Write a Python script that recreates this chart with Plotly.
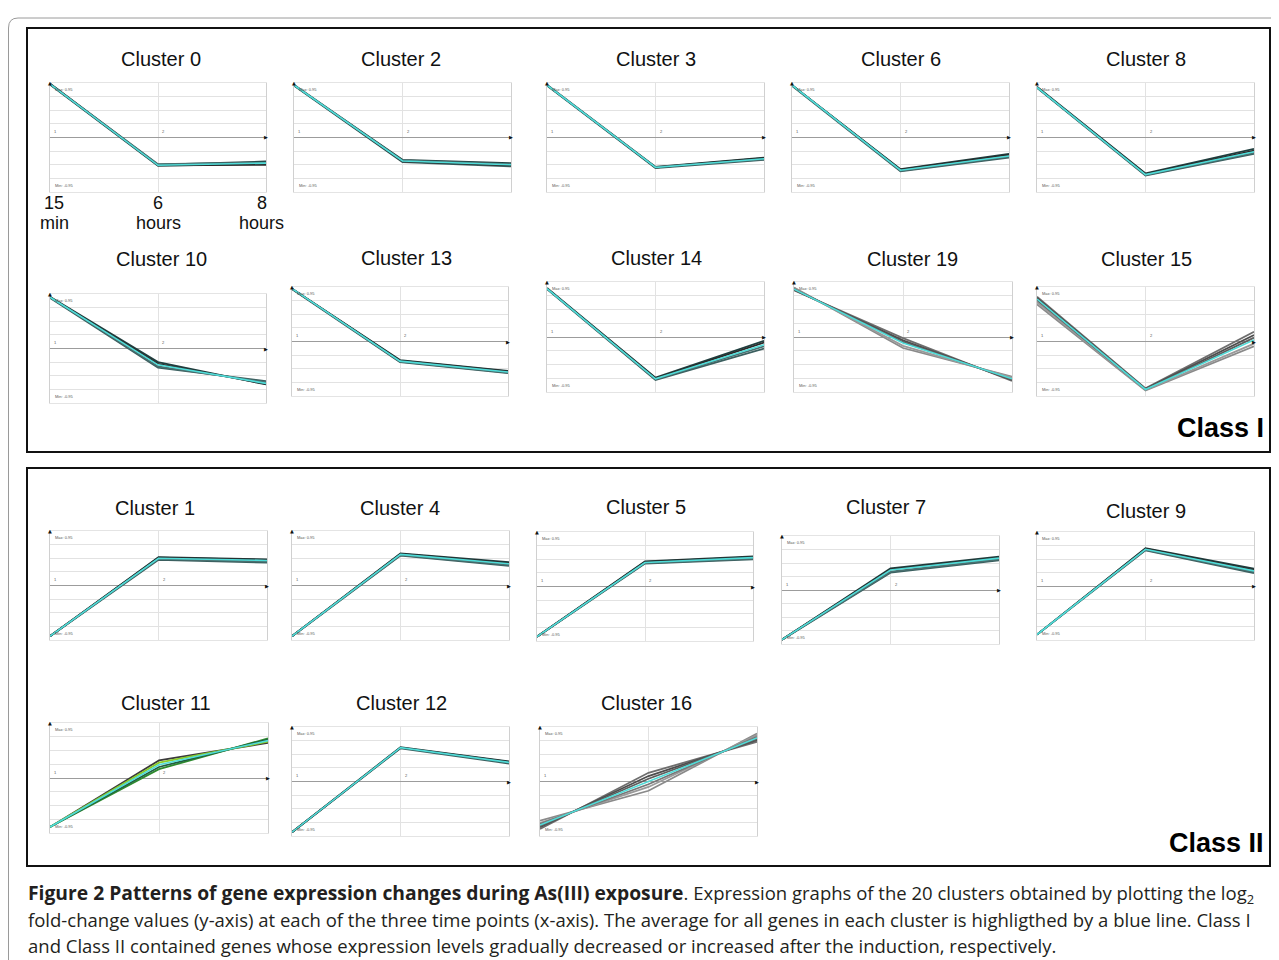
import plotly.graph_objects as go

# ---------------- data (normalised log2 fold-change) ----------------
TIME_POINTS = [0, 1, 2]
TIME_NUM = ["15", "6", "8"]
TIME_UNIT = ["min", "hours", "hours"]

C0_AVG = [0.98, -0.51, -0.47]
C0_GENES = [[0.99, -0.50, -0.44], [0.97, -0.52, -0.48], [0.98, -0.51, -0.50], [0.98, -0.49, -0.46]]
C2_AVG = [0.96, -0.43, -0.50]
C2_GENES = [[0.96, -0.41, -0.47], [0.95, -0.45, -0.53], [0.96, -0.44, -0.51], [0.97, -0.42, -0.49]]
C3_AVG = [0.96, -0.55, -0.39]
C3_GENES = [[0.96, -0.54, -0.37], [0.95, -0.56, -0.41], [0.96, -0.55, -0.38], [0.97, -0.54, -0.40]]
C6_AVG = [0.96, -0.60, -0.34]
C6_GENES = [[0.96, -0.58, -0.30], [0.95, -0.62, -0.37], [0.96, -0.59, -0.32], [0.96, -0.61, -0.35]]
C8_AVG = [0.92, -0.68, -0.26]
C8_GENES = [[0.93, -0.66, -0.21], [0.91, -0.70, -0.30], [0.92, -0.67, -0.24], [0.92, -0.69, -0.28]]
C10_AVG = [0.94, -0.30, -0.64]
C10_GENES = [[0.95, -0.25, -0.66], [0.93, -0.35, -0.60], [0.94, -0.28, -0.65], [0.94, -0.33, -0.62]]
C13_AVG = [0.97, -0.36, -0.56]
C13_GENES = [[0.97, -0.34, -0.54], [0.96, -0.38, -0.58], [0.97, -0.35, -0.55], [0.97, -0.37, -0.57]]
C14_AVG = [0.88, -0.76, -0.14]
C14_GENES = [[0.89, -0.74, -0.07], [0.87, -0.78, -0.21], [0.88, -0.75, -0.10], [0.88, -0.77, -0.17]]
C19_AVG = [0.87, -0.11, -0.76]
C19_GENES = [[0.85, -0.02, -0.80], [0.90, -0.20, -0.72], [0.86, -0.06, -0.78], [0.89, -0.16, -0.74], [0.87, -0.09, -0.77]]
C15_AVG = [0.78, -0.88, 0.03]
C15_GENES = [[0.82, -0.86, 0.18], [0.68, -0.90, -0.09], [0.80, -0.87, 0.12], [0.72, -0.89, -0.04], [0.76, -0.88, 0.07]]

C1_AVG = [-0.93, 0.50, 0.46]
C1_GENES = [[-0.93, 0.52, 0.48], [-0.93, 0.47, 0.42], [-0.93, 0.51, 0.47], [-0.93, 0.49, 0.44]]
C4_AVG = [-0.93, 0.57, 0.40]
C4_GENES = [[-0.93, 0.59, 0.43], [-0.93, 0.55, 0.36], [-0.93, 0.58, 0.41], [-0.93, 0.56, 0.38]]
C5_AVG = [-0.92, 0.44, 0.53]
C5_GENES = [[-0.92, 0.46, 0.55], [-0.92, 0.42, 0.50], [-0.92, 0.45, 0.54], [-0.92, 0.43, 0.51]]
C7_AVG = [-0.92, 0.37, 0.59]
C7_GENES = [[-0.92, 0.40, 0.62], [-0.92, 0.32, 0.55], [-0.92, 0.38, 0.60], [-0.92, 0.34, 0.57]]
C9_AVG = [-0.90, 0.68, 0.28]
C9_GENES = [[-0.90, 0.70, 0.32], [-0.90, 0.66, 0.24], [-0.90, 0.69, 0.30], [-0.90, 0.67, 0.26]]
C11_AVG = [-0.89, 0.24, 0.68]
C11_GENES = [[-0.89, 0.32, 0.64], [-0.89, 0.16, 0.72], [-0.89, 0.28, 0.66], [-0.89, 0.20, 0.70]]
C12_AVG = [-0.93, 0.62, 0.35]
C12_GENES = [[-0.93, 0.63, 0.37], [-0.93, 0.61, 0.33], [-0.93, 0.62, 0.36]]
C16_AVG = [-0.80, 0.00, 0.80]
C16_GENES = [[-0.87, 0.16, 0.73], [-0.72, -0.17, 0.88], [-0.84, 0.10, 0.76], [-0.76, -0.10, 0.85],
             [-0.82, 0.05, 0.78], [-0.78, -0.05, 0.82]]

# ---------------- styling / layout ----------------
OFF = 8                               # page margin of the browser
W, H = 1279 - 2 * OFF, 960 - OFF      # figure size
DARK = ["#1f3f3f", "#3b5f5f", "#2a2a2a", "#4a7070", "#333333"]
GRAY = ["#6e6e6e", "#8a8a8a", "#4d4d4d", "#9a9a9a", "#5e5e5e", "#777777"]
GREEN = ["#3a3a3a", "#2e8b2e", "#8acc29", "#1f5f3f"]
AVG_COLOR = "#4fdcd8"

# name, avg, genes, plot box (left,right,top,bottom px), title centre (x,y px), palette
PANELS = [
    ("Cluster 0", C0_AVG, C0_GENES, (50, 266, 83, 192), (161, 59), DARK),
    ("Cluster 2", C2_AVG, C2_GENES, (294, 511, 83, 192), (401, 59), DARK),
    ("Cluster 3", C3_AVG, C3_GENES, (547, 764, 83, 192), (656, 59), DARK),
    ("Cluster 6", C6_AVG, C6_GENES, (792, 1009, 83, 192), (901, 59), DARK),
    ("Cluster 8", C8_AVG, C8_GENES, (1037, 1254, 83, 192), (1146, 59), DARK),
    ("Cluster 10", C10_AVG, C10_GENES, (50, 266, 294, 403), (161, 259), DARK),
    ("Cluster 13", C13_AVG, C13_GENES, (292, 508, 287, 396), (406, 258), DARK),
    ("Cluster 14", C14_AVG, C14_GENES, (547, 764, 282, 392), (656, 258), DARK),
    ("Cluster 19", C19_AVG, C19_GENES, (794, 1012, 282, 392), (912, 259), GRAY),
    ("Cluster 15", C15_AVG, C15_GENES, (1037, 1254, 287, 396), (1146, 259), GRAY),
    ("Cluster 1", C1_AVG, C1_GENES, (50, 267, 531, 640), (155, 508), DARK),
    ("Cluster 4", C4_AVG, C4_GENES, (292, 509, 531, 640), (400, 508), DARK),
    ("Cluster 5", C5_AVG, C5_GENES, (537, 753, 532, 641), (646, 507), DARK),
    ("Cluster 7", C7_AVG, C7_GENES, (782, 999, 536, 644), (886, 507), DARK),
    ("Cluster 9", C9_AVG, C9_GENES, (1037, 1254, 532, 640), (1146, 511), DARK),
    ("Cluster 11", C11_AVG, C11_GENES, (50, 268, 723, 833), (166, 703), GREEN),
    ("Cluster 12", C12_AVG, C12_GENES, (292, 509, 727, 836), (401, 703), DARK),
    ("Cluster 16", C16_AVG, C16_GENES, (540, 757, 727, 836), (646, 703), GRAY),
]


def px(x):
    return (x - OFF) / W


def py(y):
    return 1 - (y - OFF) / H


fig = go.Figure()
annotations = []
shapes = []
layout_axes = {}

for i, (name, avg, genes, box, tpos, pal) in enumerate(PANELS):
    n = i + 1
    xa = "x" if n == 1 else f"x{n}"
    ya = "y" if n == 1 else f"y{n}"
    xkey = "xaxis" if n == 1 else f"xaxis{n}"
    ykey = "yaxis" if n == 1 else f"yaxis{n}"
    l, r, t, b = box
    layout_axes[xkey] = dict(
        domain=[px(l), px(r)], anchor=ya, range=[0, 2], automargin=False,
        tickvals=[1], showticklabels=False, ticks="", showgrid=True, gridcolor="#e2e2e2", gridwidth=1,
        zeroline=False, showline=True, mirror=True, linecolor="#e4e4e4", linewidth=1,
        fixedrange=True,
    )
    layout_axes[ykey] = dict(
        domain=[py(b), py(t)], anchor=xa, range=[-1, 1], automargin=False,
        tickvals=[-1, -0.75, -0.5, -0.25, 0, 0.25, 0.5, 0.75, 1],
        showticklabels=False, ticks="", showgrid=True, gridcolor="#e2e2e2", gridwidth=1,
        zeroline=True, zerolinecolor="#9c9c9c", zerolinewidth=1,
        showline=True, mirror=True, linecolor="#d0d0d0", linewidth=1, fixedrange=True,
    )
    for k, g in enumerate(genes):
        fig.add_trace(go.Scatter(x=TIME_POINTS, y=g, mode="lines", xaxis=xa, yaxis=ya,
                                 line=dict(color=pal[k % len(pal)], width=1.8),
                                 showlegend=False, hoverinfo="skip"))
    fig.add_trace(go.Scatter(x=TIME_POINTS, y=avg, mode="lines", xaxis=xa, yaxis=ya,
                             line=dict(color=AVG_COLOR, width=1.6),
                             showlegend=False, hoverinfo="skip"))
    annotations.append(dict(text=name, x=px(tpos[0]), y=py(tpos[1]), xref="paper", yref="paper",
                            xanchor="center", yanchor="middle", showarrow=False,
                            font=dict(family="Liberation Sans, Arial", size=20, color="#111")))
    tiny = dict(family="Liberation Sans, Arial", size=4, color="#555")
    annotations.append(dict(text="Max: 0.95", x=0.03, y=0.97, xref=xa, yref=ya, xanchor="left",
                            yanchor="top", showarrow=False, font=tiny))
    annotations.append(dict(text="Min: -0.95", x=0.03, y=-0.97, xref=xa, yref=ya, xanchor="left",
                            yanchor="bottom", showarrow=False, font=tiny))
    annotations.append(dict(text="1", x=0.02, y=0.02, xref=xa, yref=ya, xanchor="left",
                            yanchor="bottom", showarrow=False, font=tiny))
    annotations.append(dict(text="2", x=1.02, y=0.02, xref=xa, yref=ya, xanchor="left",
                            yanchor="bottom", showarrow=False, font=tiny))
    annotations.append(dict(text="\u25B2", x=0, y=1, xref=xa, yref=ya, xanchor="center",
                            yanchor="middle", showarrow=False,
                            font=dict(family="DejaVu Sans", size=5, color="#111")))
    annotations.append(dict(text="\u25B6", x=2, y=0, xref=xa, yref=ya, xanchor="center",
                            yanchor="middle", showarrow=False,
                            font=dict(family="DejaVu Sans", size=5, color="#111")))
    if name == "Cluster 0":
        shift = [0.04, 0.0, -0.04]
        for k in range(3):
            lab = dict(family="Liberation Sans, Arial", size=18, color="#111")
            annotations.append(dict(text=TIME_NUM[k], x=TIME_POINTS[k] + shift[k], y=py(203),
                                    xref=xa, yref="paper", xanchor="center", yanchor="middle",
                                    showarrow=False, font=lab))
            annotations.append(dict(text=TIME_UNIT[k], x=TIME_POINTS[k] + shift[k], y=py(223),
                                    xref=xa, yref="paper", xanchor="center", yanchor="middle",
                                    showarrow=False, font=lab))

RIGHT = 1270
shapes.append(dict(type="rect", xref="paper", yref="paper", x0=px(27), x1=px(RIGHT), y0=py(452), y1=py(28),
                   line=dict(color="#111", width=2), fillcolor="rgba(0,0,0,0)", layer="below"))
shapes.append(dict(type="rect", xref="paper", yref="paper", x0=px(27), x1=px(RIGHT), y0=py(866), y1=py(468),
                   line=dict(color="#111", width=2), fillcolor="rgba(0,0,0,0)", layer="below"))
shapes.append(dict(type="path", xref="paper", yref="paper",
                   path=f"M {px(8.5)},{py(960)} L {px(8.5)},{py(28)} Q {px(8.5)},{py(18)} {px(18)},{py(18)} L {px(1271)},{py(18)}",
                   line=dict(color="#9a9a9a", width=1)))

annotations.append(dict(text="<b>Class I</b>", x=px(1266), y=py(428), xref="paper", yref="paper",
                        xanchor="right", yanchor="middle", showarrow=False,
                        font=dict(family="Liberation Sans, Arial", size=27, color="#000")))
annotations.append(dict(text="<b>Class II</b>", x=px(1266), y=py(843), xref="paper", yref="paper",
                        xanchor="right", yanchor="middle", showarrow=False,
                        font=dict(family="Liberation Sans, Arial", size=27, color="#000")))

CAPTION = [
    "<span style='font-size:19.3px'><b>Figure 2 Patterns of gene expression changes during As(III) exposure</b></span>. Expression graphs of the 20 clusters obtained by plotting the log<sub>2</sub>",
    "fold-change values (y-axis) at each of the three time points (x-axis). The average for all genes in each cluster is highligthed by a blue line. Class I",
    "and Class II contained genes whose expression levels gradually decreased or increased after the induction, respectively.",
]
CAP_Y = [893, 919, 945]
for k, line in enumerate(CAPTION):
    annotations.append(dict(text=line, x=px(26), y=py(CAP_Y[k]), xref="paper", yref="paper",
                            xanchor="left", yanchor="middle", showarrow=False,
                            font=dict(family="Open Sans", size=18.5, color="#231f20")))

fig.update_layout(width=W, height=H, margin=dict(l=0, r=0, t=0, b=0, pad=0, autoexpand=False),
                  paper_bgcolor="white", plot_bgcolor="white", showlegend=False,
                  annotations=annotations, shapes=shapes, **layout_axes)

fig.write_html("out.html")
